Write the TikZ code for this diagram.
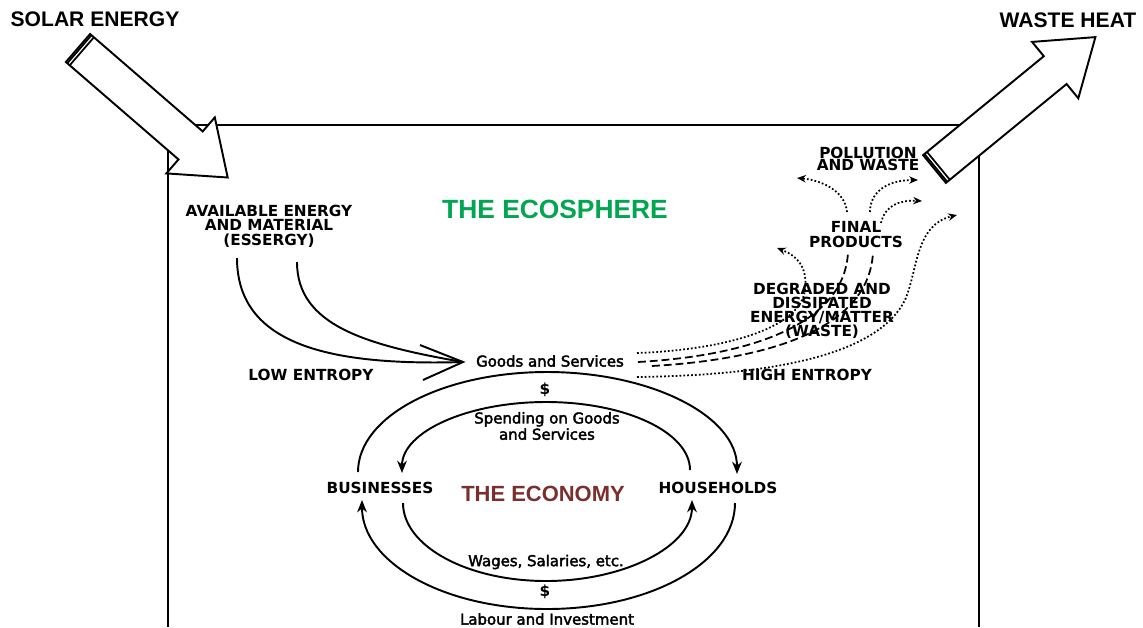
\documentclass[tikz,border=0pt]{standalone}
\usepackage{fontspec}
\setmainfont{Liberation Sans}
\newfontfamily\scan{DejaVu Sans}
\newfontfamily\scanlc[FakeBold=2.5]{DejaVu Sans}
\usetikzlibrary{arrows.meta}
\definecolor{ecogreen}{RGB}{0,166,80}
\definecolor{ecored}{RGB}{122,46,46}
\begin{document}
\begin{tikzpicture}[x=0.02cm,y=-0.02cm,
  title/.style={font=\bfseries\fontsize{12}{14}\selectfont, inner sep=0pt},
  capl/.style={font=\scan\bfseries\fontsize{8.7}{8.2}\selectfont, align=center, inner sep=0pt},
  lcl/.style={font=\scanlc\fontsize{8.5}{7.4}\selectfont, align=center, inner sep=0pt},
  flow/.style={line width=1.1pt},
  econ/.style={line width=1.1pt, -{Stealth[length=7pt,width=5.5pt]}},
  dotflow/.style={line width=1pt, dash pattern=on 1pt off 1.2pt},
  dashflow/.style={line width=1pt, dash pattern=on 4.5pt off 2.2pt},
  dotarrow/.style={-{Stealth[length=5pt,width=4.2pt]}},
  bigarrow/.style={draw, fill=white, line width=1.1pt, line join=miter},
  stripe/.style={line width=1pt}]
\useasboundingbox (0,0) rectangle (1143,627);

% ecosphere box
\draw[line width=1.1pt] (168,627) -- (168,125) -- (979,125) -- (979,627);

% big arrows
\draw[bigarrow] (90.1,34.0) -- (202.7,131.4) -- (214.8,117.4) -- (227.7,177.5)
  -- (166.4,173.4) -- (178.5,159.4) -- (65.9,62.0) -- cycle;
\draw[stripe] (91.5,35.2) -- (67.3,63.2);
\draw[stripe] (93.9,37.3) -- (69.7,65.3);
\draw[bigarrow] (923.1,155.1) -- (1043.8,56.2) -- (1032.1,41.9) -- (1095.4,37.1)
  -- (1078.3,98.3) -- (1066.6,84.0) -- (945.9,182.9) -- cycle;
\draw[stripe] (924.5,154.0) -- (947.3,181.8);
\draw[stripe] (927.0,151.9) -- (949.8,179.7);

% titles
\node[title] (solar) at (95,19) {SOLAR ENERGY};
\node[title] (waste) at (1068,20) {WASTE HEAT};
\node[font=\bfseries\fontsize{15}{18}\selectfont, text=ecogreen, inner sep=0pt] (eco) at (555,209) {THE ECOSPHERE};
\node[font=\bfseries\fontsize{12.5}{15}\selectfont, text=ecored, inner sep=0pt] (economy) at (543,494) {THE ECONOMY};

% labels
\node[capl] (avail) at (269,226) {AVAILABLE ENERGY\\AND MATERIAL\\(ESSERGY)};
\node[capl] (lowent) at (311,375) {LOW ENTROPY};
\node[lcl] (goods) at (550,361) {Goods and Services};
\node[capl] (highent) at (807,375) {HIGH ENTROPY};
\node[capl, font=\scan\bfseries\fontsize{8.7}{7.9}\selectfont] (degraded) at (822,311) {DEGRADED AND\\DISSIPATED\\ENERGY/MATTER\\(WASTE)};
\node[capl] (final) at (856,234.5) {FINAL\\PRODUCTS};
\node[capl, font=\scan\bfseries\fontsize{8.7}{7.2}\selectfont] (pollution) at (868,159) {POLLUTION\\AND WASTE};
\node[capl] (dollarTop) at (545,390) {\$};
\node[lcl] (spending) at (547,426) {Spending on Goods\\and Services};
\node[capl] (bus) at (380,488) {BUSINESSES};
\node[capl] (house) at (718,488) {HOUSEHOLDS};
\node[lcl] (wages) at (546,562) {Wages, Salaries, etc.};
\node[capl] (dollarBot) at (545,592) {\$};
\node[lcl] (labour) at (547,619) {Labour and Investment};

% essergy flows
\coordinate (ess1) at (237,258);
\coordinate (ess2) at (297,262);
\coordinate (gsIn) at (463,362);
\coordinate (barbA) at (420,345);
\coordinate (barbB) at (423,380);
\draw[flow] (ess1) .. controls (237,345) and (330,366) .. (gsIn);
\draw[flow] (ess2) .. controls (297,325) and (365,345) .. (gsIn);
\draw[flow] (barbA) -- (gsIn) -- (barbB);

% economy loops
\coordinate (busTopOut) at (358,472);
\coordinate (houseTopOut) at (737,474);
\coordinate (houseTopIn) at (690,470);
\coordinate (busTopIn) at (402,473);
\coordinate (busBotIn) at (403,503);
\coordinate (houseBotIn) at (692,500);
\coordinate (houseBotOut) at (735,503);
\coordinate (busBotOut) at (362,500);
\draw[econ] (busTopOut) .. controls (358,416) and (443,372) .. (547,372)
  .. controls (651,372) and (737,416) .. (houseTopOut);
\draw[econ] (houseTopIn) .. controls (690,432) and (625,402) .. (546,402)
  .. controls (467,402) and (402,432) .. (busTopIn);
\draw[econ] (busBotIn) .. controls (403,546) and (467,581) .. (546,581)
  .. controls (625,581) and (692,546) .. (houseBotIn);
\draw[econ] (houseBotOut) .. controls (735,562) and (651,609) .. (547,609)
  .. controls (443,609) and (362,562) .. (busBotOut);

% waste flows
\coordinate (gsOut1) at (637,353);
\coordinate (gsOut2) at (638,362);
\coordinate (gsOut3) at (652,366);
\coordinate (gsOut4) at (637,377);
\coordinate (fpIn1) at (848,252);
\coordinate (fpIn2) at (873,252);
\coordinate (dtip1) at (777,248);
\coordinate (dtip2) at (957,215);
\draw[dotflow, dotarrow] (gsOut1) .. controls (720,350) and (800,330) .. (805,290)
  .. controls (808,265) and (795,255) .. (dtip1);
\draw[dashflow] (gsOut2) .. controls (760,355) and (845,320) .. (fpIn1);
\draw[dashflow] (gsOut3) .. controls (790,358) and (870,320) .. (fpIn2);
\draw[dotflow, dotarrow] (gsOut4) .. controls (790,375) and (880,350) .. (905,300)
  .. controls (918,270) and (915,225) .. (dtip2);

% final products to pollution
\coordinate (fpOut1) at (847,212);
\coordinate (fpOut2) at (870,212);
\coordinate (fpOut3) at (881,223);
\coordinate (ptip1) at (797,178);
\coordinate (ptip2) at (918,180);
\coordinate (ptip3) at (922,201);
\draw[dotflow, dotarrow] (fpOut1) .. controls (845,190) and (820,180) .. (ptip1);
\draw[dotflow, dotarrow] (fpOut2) .. controls (870,190) and (890,180) .. (ptip2);
\draw[dotflow, dotarrow] (fpOut3) .. controls (885,205) and (900,200) .. (ptip3);
\end{tikzpicture}
\end{document}
